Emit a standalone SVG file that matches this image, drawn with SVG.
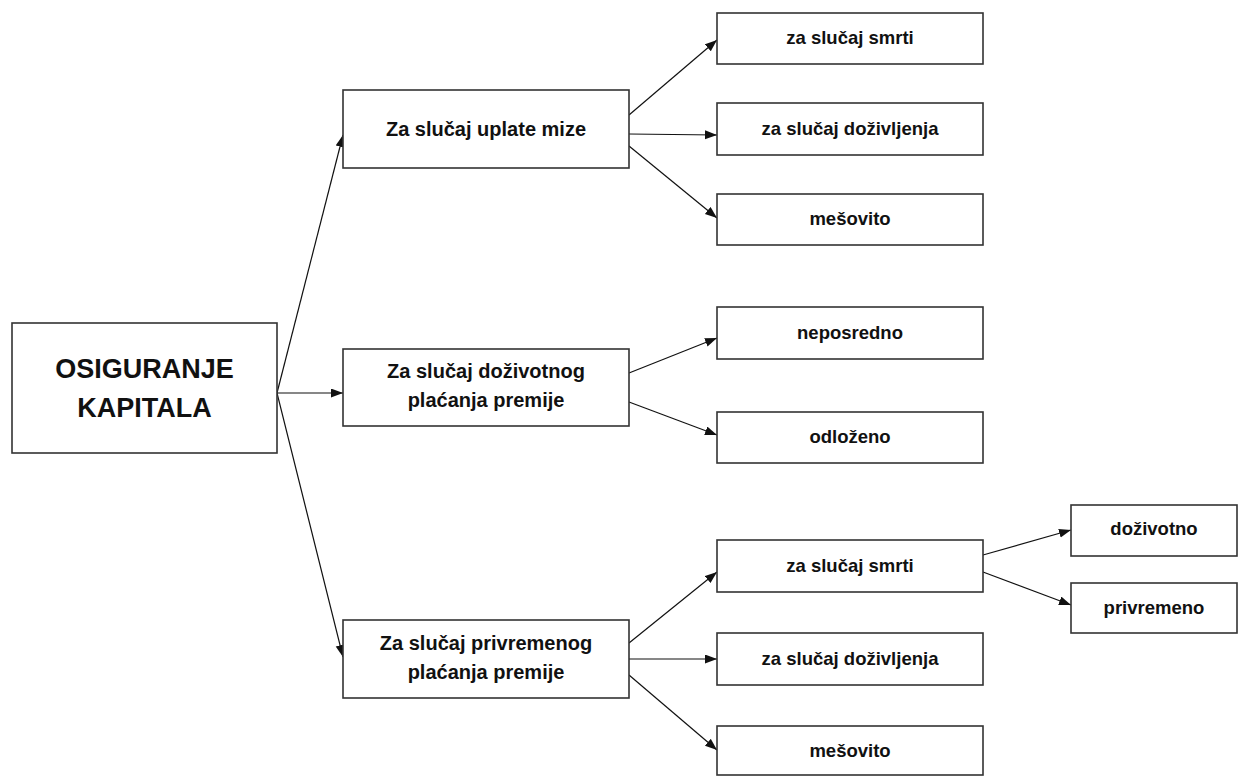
<svg xmlns="http://www.w3.org/2000/svg" width="1248" height="776" viewBox="0 0 1248 776">
<defs>
<marker id="arr" markerUnits="userSpaceOnUse" markerWidth="13" markerHeight="10" refX="12" refY="4.5" orient="auto">
<path d="M0,0 L12,4.5 L0,9 z" fill="#111"/>
</marker>
<style>
.box{fill:#fff;stroke:#333;stroke-width:1.6}
.t{font-family:"Liberation Sans",Arial,sans-serif;font-weight:bold;fill:#111;text-anchor:middle}
.root{font-size:27px}
.l1{font-size:20px}
.l2{font-size:18.5px}
.c{stroke:#111;stroke-width:1.2;fill:none;marker-end:url(#arr)}
</style>
</defs>
<rect width="1248" height="776" fill="#fff"/>
<g id="connectors">
<line class="c" x1="277" y1="393" x2="343" y2="135"/>
<line class="c" x1="277" y1="393" x2="343" y2="393"/>
<line class="c" x1="277" y1="393" x2="343" y2="657"/>
<line class="c" x1="629" y1="115" x2="717" y2="40"/>
<line class="c" x1="629" y1="134" x2="717" y2="135"/>
<line class="c" x1="629" y1="146" x2="717" y2="218"/>
<line class="c" x1="629" y1="373" x2="717" y2="338"/>
<line class="c" x1="629" y1="402" x2="717" y2="435"/>
<line class="c" x1="629" y1="643" x2="717" y2="572"/>
<line class="c" x1="629" y1="659" x2="717" y2="659"/>
<line class="c" x1="629" y1="675" x2="717" y2="750"/>
<line class="c" x1="983" y1="555" x2="1071" y2="530"/>
<line class="c" x1="983" y1="572" x2="1071" y2="605"/>
</g>
<g id="root">
<rect class="box" x="12" y="323" width="265" height="130"/>
<text class="t root" x="144.5" y="378">OSIGURANJE</text>
<text class="t root" x="144.5" y="417">KAPITALA</text>
</g>
<g id="l1-uplate">
<rect class="box" x="343" y="90" width="286" height="78"/>
<text class="t l1" x="486" y="136">Za slučaj uplate mize</text>
</g>
<g id="l1-dozivotnog">
<rect class="box" x="343" y="349" width="286" height="77"/>
<text class="t l1" x="486" y="378">Za slučaj doživotnog</text>
<text class="t l1" x="486" y="407">plaćanja premije</text>
</g>
<g id="l1-privremenog">
<rect class="box" x="343" y="620" width="286" height="78"/>
<text class="t l1" x="486" y="650">Za slučaj privremenog</text>
<text class="t l1" x="486" y="679">plaćanja premije</text>
</g>
<g id="a-smrti">
<rect class="box" x="717" y="13" width="266" height="51"/>
<text class="t l2" x="850" y="44">za slučaj smrti</text>
</g>
<g id="a-dozivljenja">
<rect class="box" x="717" y="103" width="266" height="52"/>
<text class="t l2" x="850" y="135">za slučaj doživljenja</text>
</g>
<g id="a-mesovito">
<rect class="box" x="717" y="194" width="266" height="51"/>
<text class="t l2" x="850" y="225">mešovito</text>
</g>
<g id="b-neposredno">
<rect class="box" x="717" y="307" width="266" height="52"/>
<text class="t l2" x="850" y="339">neposredno</text>
</g>
<g id="b-odlozeno">
<rect class="box" x="717" y="412" width="266" height="51"/>
<text class="t l2" x="850" y="443">odloženo</text>
</g>
<g id="c-smrti">
<rect class="box" x="717" y="540" width="266" height="52"/>
<text class="t l2" x="850" y="572">za slučaj smrti</text>
</g>
<g id="c-dozivljenja">
<rect class="box" x="717" y="633" width="266" height="52"/>
<text class="t l2" x="850" y="665">za slučaj doživljenja</text>
</g>
<g id="c-mesovito">
<rect class="box" x="717" y="726" width="266" height="49"/>
<text class="t l2" x="850" y="757">mešovito</text>
</g>
<g id="d-dozivotno">
<rect class="box" x="1071" y="505" width="166" height="51"/>
<text class="t l2" x="1154" y="535">doživotno</text>
</g>
<g id="d-privremeno">
<rect class="box" x="1071" y="583" width="166" height="50"/>
<text class="t l2" x="1154" y="614">privremeno</text>
</g>
</svg>
